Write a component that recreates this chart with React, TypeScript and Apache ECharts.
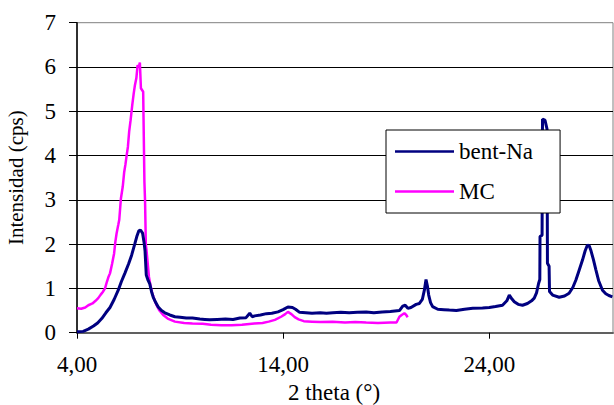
import React, { useEffect, useRef } from "react";
import * as echarts from "echarts";

const bentX = [4.0, 4.3, 4.55, 4.8, 5.0, 5.2, 5.4, 5.6, 5.8, 6.0, 6.15, 6.32, 6.5, 6.65, 6.8, 6.9, 7.0, 7.08, 7.18, 7.25, 7.3, 7.36, 7.45, 7.53, 7.62, 7.7, 7.82, 7.94, 8.1, 8.26, 8.5, 8.75, 9.0, 9.3, 9.6, 9.96, 10.2, 10.44, 10.8, 11.2, 11.57, 11.9, 12.2, 12.38, 12.5, 12.62, 12.9, 13.19, 13.45, 13.75, 14.0, 14.23, 14.45, 14.6, 14.8, 15.1, 15.4, 15.8, 16.1, 16.41, 16.8, 17.2, 17.6, 18.03, 18.4, 18.8, 19.2, 19.64, 19.8, 19.92, 20.05, 20.2, 20.45, 20.61, 20.75, 20.85, 20.93, 21.0, 21.06, 21.15, 21.25, 21.5, 21.8, 22.06, 22.4, 22.8, 23.2, 23.67, 24.0, 24.3, 24.64, 24.85, 24.97, 25.1, 25.21, 25.4, 25.61, 25.85, 26.05, 26.18, 26.29, 26.39, 26.45, 26.46, 26.56, 26.58, 26.7, 26.8, 26.82, 26.9, 26.92, 27.07, 27.39, 27.65, 27.87, 28.05, 28.2, 28.35, 28.52, 28.65, 28.76, 28.85, 28.92, 29.05, 29.17, 29.3, 29.49, 29.65, 29.8, 29.97];
const bentY = [0.02, 0.03, 0.08, 0.15, 0.22, 0.32, 0.45, 0.57, 0.75, 0.96, 1.15, 1.34, 1.55, 1.75, 2.0, 2.17, 2.3, 2.32, 2.25, 2.05, 1.85, 1.3, 1.18, 1.1, 0.92, 0.8, 0.68, 0.58, 0.5, 0.45, 0.4, 0.36, 0.35, 0.33, 0.33, 0.31, 0.3, 0.29, 0.3, 0.31, 0.3, 0.33, 0.34, 0.44, 0.36, 0.38, 0.4, 0.43, 0.44, 0.47, 0.52, 0.58, 0.57, 0.53, 0.46, 0.45, 0.44, 0.45, 0.44, 0.45, 0.46, 0.45, 0.46, 0.47, 0.45, 0.47, 0.48, 0.5, 0.6, 0.62, 0.55, 0.57, 0.64, 0.66, 0.75, 0.96, 1.2, 1.05, 0.85, 0.68, 0.59, 0.53, 0.52, 0.51, 0.5, 0.53, 0.55, 0.56, 0.57, 0.59, 0.62, 0.72, 0.85, 0.76, 0.7, 0.64, 0.62, 0.66, 0.72, 0.78, 0.9, 1.11, 1.2, 2.17, 2.2, 4.82, 4.8, 4.6, 1.57, 1.5, 0.93, 0.85, 0.8, 0.83, 0.89, 1.02, 1.19, 1.4, 1.64, 1.85, 1.98, 1.96, 1.87, 1.65, 1.42, 1.18, 0.96, 0.88, 0.84, 0.81];

const mcX = [4.0, 4.2, 4.4, 4.55, 4.75, 4.9, 5.03, 5.15, 5.25, 5.36, 5.45, 5.52, 5.6, 5.7, 5.8, 5.86, 5.92, 6.0, 6.05, 6.13, 6.22, 6.29, 6.35, 6.41, 6.47, 6.53, 6.6, 6.68, 6.75, 6.81, 6.88, 6.94, 7.0, 7.05, 7.1, 7.21, 7.27, 7.3, 7.34, 7.37, 7.49, 7.57, 7.65, 7.75, 7.86, 8.0, 8.18, 8.4, 8.75, 9.2, 9.6, 10.1, 10.5, 11.0, 11.5, 12.0, 12.6, 13.0, 13.3, 13.6, 13.9, 14.1, 14.23, 14.4, 14.56, 14.75, 15.0, 15.4, 15.8, 16.4, 17.0, 17.5, 18.03, 18.6, 19.2, 19.5, 19.64, 19.75, 19.88, 19.97, 20.04];
const mcY = [0.55, 0.54, 0.57, 0.62, 0.66, 0.72, 0.78, 0.86, 0.92, 1.0, 1.15, 1.25, 1.34, 1.55, 1.79, 2.05, 2.24, 2.43, 2.55, 3.03, 3.3, 3.63, 3.8, 4.01, 4.2, 4.54, 4.8, 5.14, 5.4, 5.59, 5.75, 6.04, 6.0, 6.1, 5.52, 5.44, 3.41, 3.0, 1.98, 1.87, 1.26, 1.05, 0.89, 0.75, 0.62, 0.5, 0.4, 0.32, 0.25, 0.22, 0.21, 0.2, 0.18, 0.17, 0.17, 0.18, 0.21, 0.22, 0.25, 0.29, 0.36, 0.42, 0.47, 0.42, 0.35, 0.3, 0.26, 0.25, 0.24, 0.25, 0.23, 0.24, 0.23, 0.22, 0.23, 0.23, 0.36, 0.4, 0.44, 0.4, 0.35];

const seriesNames = ["bent-Na", "MC"];
const xAxisTitle = "2 theta (°)";
const yAxisTitle = "Intensidad (cps)";

const FONT = "Liberation Serif";

export default function App() {
  const ref = useRef<HTMLDivElement>(null);
  useEffect(() => {
    if (!ref.current) return;
    const chart = echarts.init(ref.current, null, { renderer: "svg" });
    const zip = (xs: number[], ys: number[]) => xs.map((x, i) => [x, ys[i]]);
    chart.setOption({
      animation: false,
      backgroundColor: "#ffffff",
      grid: {
        left: 77,
        right: 1,
        top: 22.7,
        bottom: 72.3,
        show: true,
        borderColor: "#808080",
        borderWidth: 1,
        containLabel: false,
        outerBoundsMode: "none",
      },
      legend: {
        orient: "vertical",
        left: 386,
        top: 130,
        padding: [10, 27, 10, 9],
        itemWidth: 59,
        itemHeight: 2.5,
        itemGap: 17,
        itemTextGap: 7,
        icon: "rect",
        backgroundColor: "#ffffff",
        borderColor: "#000000",
        borderWidth: 1,
        textStyle: { fontFamily: FONT, fontSize: 23, color: "#000" },
        data: seriesNames,
      },
      xAxis: {
        type: "value",
        min: 4,
        max: 30,
        interval: 10,
        name: xAxisTitle,
        nameLocation: "middle",
        nameGap: 48,
        nameTextStyle: { fontFamily: FONT, fontSize: 23, color: "#000", padding: [0, 22, 0, 0] },
        axisLine: { show: true, lineStyle: { color: "#606060", width: 2 } },
        axisTick: { show: true, length: 6, lineStyle: { color: "#000" } },
        axisLabel: {
          fontFamily: FONT,
          fontSize: 23,
          color: "#000",
          margin: 20,
          showMaxLabel: false,
          formatter: (v: number) => v.toFixed(2).replace(".", ","),
        },
        splitLine: { show: false },
      },
      yAxis: {
        type: "value",
        min: 0,
        max: 7,
        interval: 1,
        name: yAxisTitle,
        nameLocation: "middle",
        nameGap: 51,
        nameTextStyle: { fontFamily: FONT, fontSize: 21, color: "#000" },
        axisLine: { show: true, lineStyle: { color: "#000", width: 1.5 } },
        axisTick: { show: true, length: 8, lineStyle: { color: "#000" } },
        axisLabel: { fontFamily: FONT, fontSize: 23, color: "#000", margin: 21 },
        splitLine: { show: true, showMaxLine: false, lineStyle: { color: "#000", width: 1 } },
      },
      series: [
        {
          name: seriesNames[0],
          type: "line",
          data: zip(bentX, bentY),
          symbol: "none",
          lineStyle: { color: "#000080", width: 3 },
          itemStyle: { color: "#000080" },
          z: 3,
        },
        {
          name: seriesNames[1],
          type: "line",
          data: zip(mcX, mcY),
          symbol: "none",
          lineStyle: { color: "#ff00ff", width: 2.5 },
          itemStyle: { color: "#ff00ff" },
          z: 2,
        },
      ],
    });
    return () => chart.dispose();
  }, []);
  return (
    <div ref={ref} style={{ position: "fixed", left: 0, top: 0, width: 614, height: 405 }} />
  );
}
